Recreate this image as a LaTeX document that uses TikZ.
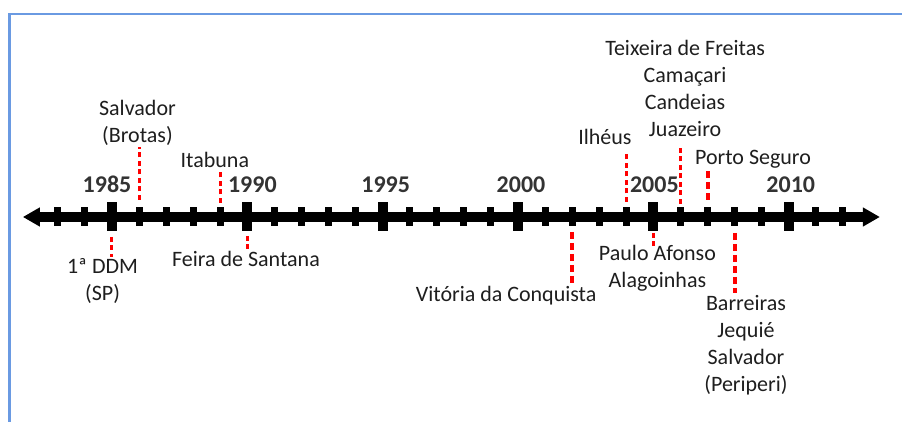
\documentclass[tikz,border=0pt]{standalone}
\usepackage{fontspec}
\setmainfont{Carlito}
\definecolor{MarkRed}{HTML}{FF0000}
\definecolor{FrameBlue}{HTML}{6A9AE2}
\definecolor{YearGray}{HTML}{333333}
\definecolor{EventInk}{HTML}{1E1E1E}
\usetikzlibrary{
  arrows.meta,
  positioning,
  calc
}

\begin{document}
\begin{tikzpicture}[
  x=27.07pt, y=1pt,
  axis/.style={
    {Triangle[length=17pt,width=18pt]}-{Triangle[length=17pt,width=18pt]},
    line width=10pt, black
  },
  minortick/.style={
    rectangle, fill=black, inner sep=0pt,
    minimum width=7pt, minimum height=19pt
  },
  majortick/.style={
    rectangle, fill=black, inner sep=0pt,
    minimum width=10pt, minimum height=29pt
  },
  yearlabel/.style={
    anchor=base, inner sep=0pt,
    font=\fontsize{24}{28}\selectfont\bfseries, text=YearGray
  },
  event/.style={
    anchor=base, inner sep=0pt, align=center,
    font=\fontsize{22}{27}\selectfont, text=EventInk
  },
  markline/.style={
    MarkRed, line width=3pt, dash pattern=on 5pt off 3.5pt
  },
  wideline/.style={
    markline, line width=4pt, dash pattern=on 7pt off 4pt
  },
  frame/.style={
    FrameBlue, line width=2.5pt
  }
]
  \useasboundingbox (-4.1374,-205) rectangle (29.184,217);
  \draw[frame] (-3.787,-205) -- (-3.787,203) -- (29.184,203);

  % one coordinate per year on the axis
  \foreach \yr in {1983,...,2012}
    \coordinate (t\yr) at (\yr-1985,0);
  \coordinate (axisL) at ([xshift=-35pt]t1983);
  \coordinate (axisR) at ([xshift=37pt]t2012);

  \draw[axis] (axisL) -- (axisR);
  \foreach \yr in {1983,...,2012}
    \node[minortick] (tick\yr) at (t\yr) {};
  \foreach \yr/\dx in {1985/-5,1990/5,1995/3,2000/3,2005/1,2010/2} {
    \node[majortick] (major\yr) at (t\yr) {};
    \node[yearlabel] (year\yr) at ([xshift=\dx pt, yshift=24pt]t\yr) {\yr};
  }

  % events above the axis
  \node[event] (brotas) at (0.94,74) {Salvador\\(Brotas)};
  \node[event] (itabuna) at (3.80,49) {Itabuna};
  \node[event] (ilheus) at (18.21,72) {Ilhéus};
  \node[event] (juazeiro) at (21.17,80)
    {Teixeira de Freitas\\Camaçari\\Candeias\\Juazeiro};
  \node[event] (porto) at (23.68,52) {Porto Seguro};

  \draw[markline, shorten <=17pt, shorten >=4pt] (t1986) -- (brotas.base -| t1986);
  \draw[markline, shorten <=14pt, shorten >=4pt] (t1989) -- (itabuna.base -| t1989);
  \draw[markline, shorten <=15pt, shorten >=8pt] (t2004) -- (ilheus.base -| t2004);
  \draw[markline, shorten <=13pt, shorten >=8pt] (t2006) -- (juazeiro.base -| t2006);
  \draw[wideline, shorten <=17pt, shorten >=5pt] (t2007) -- (porto.base -| t2007);

  % events below the axis
  \node[event] (ddm) at (-0.35,-84) {1ª DDM\\(SP)};
  \node[event] (feira) at (4.95,-50) {Feira de Santana};
  \node[event] (vitoria) at (14.56,-85) {Vitória da Conquista};
  \node[event] (afonso) at (20.15,-71) {Paulo Afonso\\Alagoinhas};
  \node[event] (barreiras) at (23.42,-175)
    {Barreiras\\Jequié\\Salvador\\(Periperi)};

  \draw[markline, shorten <=20pt, shorten >=44pt] (t1985) -- (ddm.base -| t1985);
  \draw[markline, shorten <=19pt, shorten >=16pt] (t1990) -- (feira.base -| t1990);
  \draw[wideline, shorten <=15pt, shorten >=19pt] (t2002) -- (vitoria.base -| t2002);
  \draw[markline, shorten <=16pt, shorten >=41pt] (t2005) -- (afonso.base -| t2005);
  \draw[wideline, shorten <=16pt, shorten >=99pt] (t2008) -- (barreiras.base -| t2008);
\end{tikzpicture}
\end{document}
